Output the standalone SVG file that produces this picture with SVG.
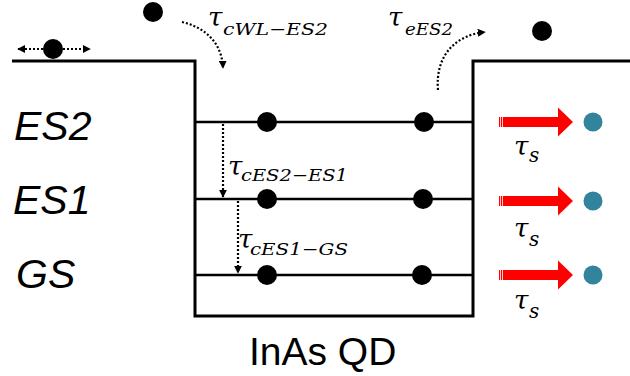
<svg xmlns="http://www.w3.org/2000/svg" width="630" height="376" viewBox="0 0 630 376">
<style>
.wall{fill:none;stroke:#000;stroke-width:3;stroke-linejoin:miter}
.lvl{fill:none;stroke:#000;stroke-width:2.5}
.dot{fill:none;stroke:#000;stroke-width:2.2;stroke-dasharray:2 2}
.e{fill:#000}
.h{fill:#31849b}
.lab{font-family:"Liberation Sans",Arial,sans-serif;font-style:italic;font-size:41px;fill:#000}
.qd{font-family:"Liberation Sans",Arial,sans-serif;font-size:39px;fill:#000}
.tau{font-family:"DejaVu Serif","Liberation Serif",serif;font-style:italic;font-size:26px;fill:#000}
.sub{font-family:"DejaVu Serif","Liberation Serif",serif;font-style:italic;font-size:17px;fill:#000}
.subs{font-family:"DejaVu Serif","Liberation Serif",serif;font-style:italic;font-size:20px;fill:#000}
.red{fill:#ff0000}
</style>
<defs>
<marker id="ah" viewBox="0 0 10 10" refX="9" refY="5" markerWidth="8" markerHeight="8" markerUnits="userSpaceOnUse" orient="auto">
<path d="M0,0 L10,5 L0,10 z" fill="#000"/>
</marker>
<g id="redArrow">
<rect x="0" y="-5" width="60" height="10" class="red"/>
<path d="M59,-14.5 L74,0 L59,14.5 z" class="red"/>
<line x1="1.5" y1="-5" x2="1.5" y2="5" stroke="#fff" stroke-width="0.8"/>
<line x1="3.5" y1="-5" x2="3.5" y2="5" stroke="#fff" stroke-width="0.8"/>
</g>
</defs>
<rect width="630" height="376" fill="#fff"/>

<g id="well">
<path class="wall" d="M12,61 H195 V316 H473 V61 H630"/>
</g>
<g id="levels">
<line class="lvl" x1="195" y1="122" x2="473" y2="122"/>
<line class="lvl" x1="195" y1="199" x2="473" y2="199"/>
<line class="lvl" x1="195" y1="275" x2="473" y2="275"/>
</g>

<g id="labels">
<text class="lab" x="14" y="140">ES2</text>
<text class="lab" x="13" y="214">ES1</text>
<text class="lab" x="16" y="288">GS</text>
<text class="qd" x="249" y="365">InAs QD</text>
</g>

<g id="electrons">
<circle class="e" cx="153" cy="12" r="10"/>
<circle class="e" cx="542" cy="31" r="10"/>
<circle class="e" cx="53" cy="49" r="10"/>
<circle class="e" cx="267" cy="122" r="10"/>
<circle class="e" cx="424" cy="122" r="10"/>
<circle class="e" cx="267" cy="199" r="10"/>
<circle class="e" cx="423" cy="199" r="10"/>
<circle class="e" cx="267" cy="275" r="10"/>
<circle class="e" cx="422" cy="275" r="10"/>
</g>

<g id="holes">
<circle class="h" cx="593" cy="122" r="9.5"/>
<circle class="h" cx="593" cy="201" r="9.5"/>
<circle class="h" cx="593" cy="275" r="9.5"/>
</g>

<g id="connectors">
<line class="dot" x1="43" y1="49" x2="18" y2="49" marker-end="url(#ah)"/>
<line class="dot" x1="63" y1="49" x2="90" y2="49" marker-end="url(#ah)"/>
<path class="dot" d="M182,22 C204,27 222,42 223,68" marker-end="url(#ah)"/>
<path class="dot" d="M438,90 C435,55 456,35 485,32" marker-end="url(#ah)"/>
<line class="dot" x1="223" y1="124" x2="223" y2="197" marker-end="url(#ah)"/>
<line class="dot" x1="238" y1="201" x2="238" y2="273" marker-end="url(#ah)"/>
<use href="#redArrow" x="499" y="122"/>
<use href="#redArrow" x="499" y="201"/>
<use href="#redArrow" x="499" y="275"/>
</g>

<g id="tauLabels">
<text class="tau" x="208" y="26">τ</text>
<text class="sub" x="223" y="35" textLength="105" lengthAdjust="spacingAndGlyphs">cWL−ES2</text>
<text class="tau" x="388" y="26">τ</text>
<text class="sub" x="405" y="35" textLength="48" lengthAdjust="spacingAndGlyphs">eES2</text>
<text class="tau" x="228" y="175">τ</text>
<text class="sub" x="241" y="181" textLength="107" lengthAdjust="spacingAndGlyphs">cES2−ES1</text>
<text class="tau" x="238" y="248">τ</text>
<text class="sub" x="250" y="255" textLength="98" lengthAdjust="spacingAndGlyphs">cES1−GS</text>
<text class="tau" x="514" y="155">τ</text>
<text class="subs" x="529" y="162">s</text>
<text class="tau" x="514" y="237">τ</text>
<text class="subs" x="529" y="246">s</text>
<text class="tau" x="514" y="309">τ</text>
<text class="subs" x="529" y="318">s</text>
</g>
</svg>
